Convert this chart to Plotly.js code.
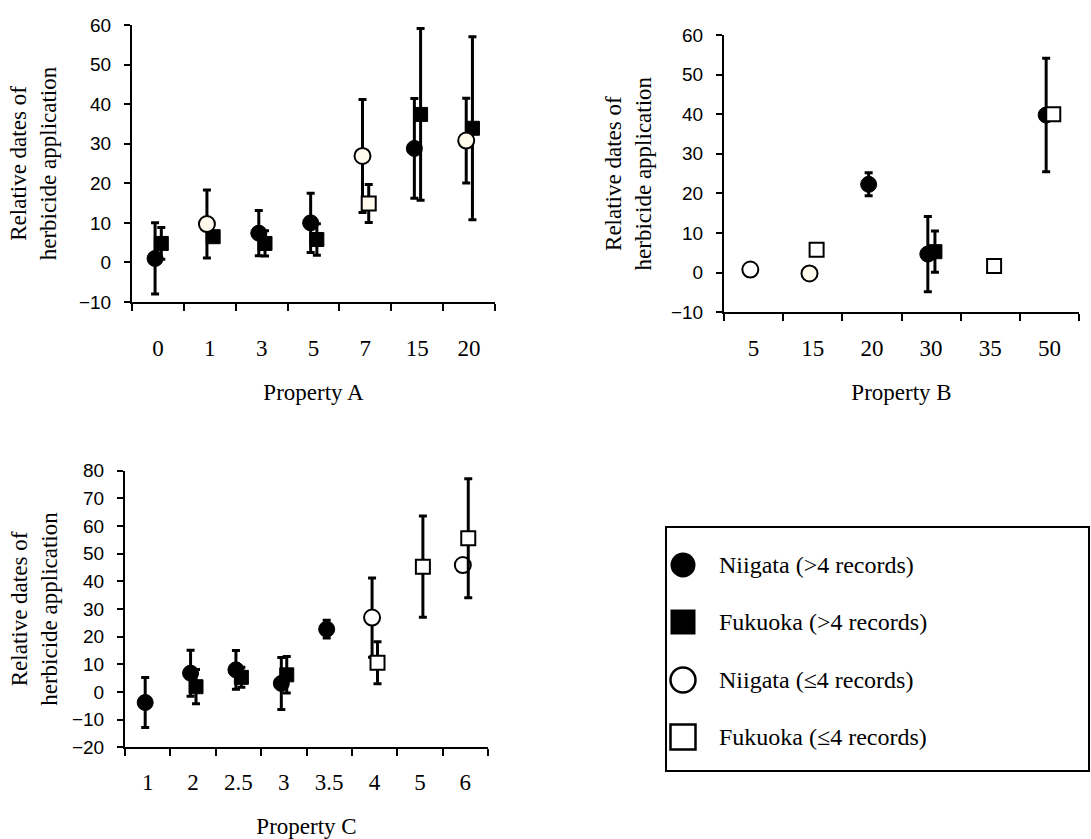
<!DOCTYPE html>
<html><head><meta charset="utf-8">
<script src="https://cdn.plot.ly/plotly-3.0.1.min.js"></script>
<style>html,body{margin:0;padding:0;background:#fff}#chart{width:1091px;height:839px}</style>
</head><body><div id="chart"></div>
<script>
// ================= DATA =================
const seriesNames = ['Niigata (>4 records)', 'Fukuoka (>4 records)', 'Niigata (\u22644 records)', 'Fukuoka (\u22644 records)'];
const yTitle = 'Relative dates of<br>herbicide application';

// Panel A
const titleA = 'Property A';
const catsA = ['0', '1', '3', '5', '7', '15', '20'];
const niigataHighA    = [1.0, null, 7.4, 10.0, null, 28.8, null];
const niigataHighErrA = [9.0, null, 5.7, 7.5, null, 12.6, null];
const fukuokaHighA    = [4.8, 6.5, 4.8, 5.8, null, 37.4, 33.9];
const fukuokaHighErrA = [4.0, null, 3.2, 4.0, null, 21.7, 23.1];
const niigataLowA     = [null, 9.7, null, null, 26.9, null, 30.8];
const niigataLowErrA  = [null, 8.6, null, null, 14.3, null, 10.7];
const fukuokaLowA     = [null, null, null, null, 14.9, null, null];
const fukuokaLowErrA  = [null, null, null, null, 4.8, null, null];

// Panel B
const titleB = 'Property B';
const catsB = ['5', '15', '20', '30', '35', '50'];
const niigataHighB    = [null, null, 22.3, 4.7, null, 39.8];
const niigataHighErrB = [null, null, 2.9, 9.5, null, 14.3];
const fukuokaHighB    = [null, null, null, 5.3, null, null];
const fukuokaHighErrB = [null, null, null, 5.2, null, null];
const niigataLowB     = [0.8, -0.2, null, null, null, null];
const niigataLowErrB  = [null, null, null, null, null, null];
const fukuokaLowB     = [null, 5.8, null, null, 1.7, 40.0];
const fukuokaLowErrB  = [null, null, null, null, null, null];

// Panel C
const titleC = 'Property C';
const catsC = ['1', '2', '2.5', '3', '3.5', '4', '5', '6'];
const niigataHighC    = [-3.8, 6.8, 8.0, 3.1, 22.7, null, null, null];
const niigataHighErrC = [9.0, 8.3, 7.0, 9.4, 3.2, null, null, null];
const fukuokaHighC    = [null, 1.9, 5.3, 6.2, null, null, null, null];
const fukuokaHighErrC = [null, 6.2, 3.6, 6.6, null, null, null, null];
const niigataLowC     = [null, null, null, null, null, 26.9, null, 45.9];
const niigataLowErrC  = [null, null, null, null, null, 14.3, null, null];
const fukuokaLowC     = [null, null, null, null, null, 10.6, 45.3, 55.6];
const fukuokaLowErrC  = [null, null, null, null, null, 7.6, 18.3, 21.5];

// ================= STYLE / LAYOUT =================
const W = 1091, H = 839;
const SERIF = 'Liberation Serif, Times New Roman, serif';
const SANS = 'Liberation Sans, Arial, sans-serif';
const CREAM = '#fffaeb';
const circleOffset = -0.055, squareOffset = 0.065;

const styles = [
  {symbol: 'circle', size: 16, color: '#000', line: 1, off: circleOffset},
  {symbol: 'square', size: 14, color: '#000', line: 1, off: squareOffset},
  {symbol: 'circle', size: 16, color: '#fff', line: 2, off: circleOffset},
  {symbol: 'square', size: 14, color: '#fff', line: 2, off: squareOffset}
];

// panel pixel boxes: [left, right, top, bottom]
const boxA = [132, 495, 25, 302];
const boxB = [724, 1079, 35, 312.3];
const boxC = [125, 488, 470.7, 747.3];

function px2x(p) { return p / W; }
function px2y(p) { return 1 - p / H; }

const traces = [];
function addPanel(cats, series, errs, xa, ya, fills) {
  series.forEach((vals, s) => {
    const st = styles[s];
    const xs = [], ys = [], es = [];
    vals.forEach((v, i) => {
      if (v === null) return;
      xs.push(i + st.off); ys.push(v);
      es.push(errs[s][i] === null ? NaN : errs[s][i]);
    });
    const hasErr = es.some(e => !isNaN(e));
    traces.push({
      type: 'scatter', mode: 'markers', x: xs, y: ys, xaxis: xa, yaxis: ya,
      name: seriesNames[s], showlegend: false, cliponaxis: false,
      marker: {symbol: st.symbol, size: st.size,
               color: (fills && fills[s]) ? fills[s] : st.color,
               line: {color: '#000', width: st.line}},
      error_y: {type: 'data', array: es, visible: hasErr, color: '#000', thickness: 3, width: 4}
    });
  });
}

addPanel(catsA, [niigataHighA, fukuokaHighA, niigataLowA, fukuokaLowA],
         [niigataHighErrA, fukuokaHighErrA, niigataLowErrA, fukuokaLowErrA], 'x', 'y',
         [null, null, CREAM, CREAM]);
addPanel(catsB, [niigataHighB, fukuokaHighB, niigataLowB, fukuokaLowB],
         [niigataHighErrB, fukuokaHighErrB, niigataLowErrB, fukuokaLowErrB], 'x2', 'y2',
         [null, null, ['#fff', CREAM], null]);
addPanel(catsC, [niigataHighC, fukuokaHighC, niigataLowC, fukuokaLowC],
         [niigataHighErrC, fukuokaHighErrC, niigataLowErrC, fukuokaLowErrC], 'x3', 'y3', null);

function xAxis(box, cats, title, labelStandoff, titleStandoff, yanchor) {
  return {
    domain: [px2x(box[0]), px2x(box[1])], anchor: yanchor,
    range: [-0.5, cats.length - 0.5], fixedrange: true,
    tickmode: 'array', tickvals: cats.map((c, i) => i), ticktext: cats,
    ticks: '', showline: true, linecolor: '#000', linewidth: 2,
    showgrid: false, zeroline: false,
    tickfont: {family: SERIF, size: 23, color: '#000'},
    ticklabelstandoff: labelStandoff,
    minor: {tickmode: 'linear', tick0: -0.5, dtick: 1, ticks: 'outside', ticklen: 7,
            tickwidth: 2, tickcolor: '#000', showgrid: false},
    title: {text: title, font: {family: SERIF, size: 23, color: '#000'}, standoff: titleStandoff}
  };
}
function yAxis(box, range, xanchor, titleStandoff) {
  return {
    domain: [px2y(box[3]), px2y(box[2])], anchor: xanchor,
    range: range, fixedrange: true, tickmode: 'linear', tick0: 0, dtick: 10,
    ticks: 'outside', ticklen: 6, tickwidth: 2, tickcolor: '#000',
    showline: true, linecolor: '#000', linewidth: 2,
    showgrid: false, zeroline: false,
    tickfont: {family: SANS, size: 19, color: '#000'},
    ticklabelstandoff: 9,
    title: {text: yTitle, font: {family: SERIF, size: 23, color: '#000'}, standoff: titleStandoff}
  };
}

// manual legend
const legBox = [666, 1089, 527, 771];
const legRows = [565, 622, 680, 737];
const legMarkerX = 683, legTextX = 717, legR = 12.5;
const shapes = [{type: 'rect', xref: 'paper', yref: 'paper',
  x0: px2x(legBox[0]), x1: px2x(legBox[1]), y0: px2y(legBox[3]), y1: px2y(legBox[2]),
  line: {color: '#000', width: 2}, fillcolor: 'rgba(0,0,0,0)'}];
const annotations = [];
seriesNames.forEach((name, s) => {
  const st = styles[s];
  const cy = legRows[s];
  const filled = st.color === '#000';
  shapes.push({type: st.symbol === 'circle' ? 'circle' : 'rect', xref: 'paper', yref: 'paper',
    x0: px2x(legMarkerX - legR), x1: px2x(legMarkerX + legR),
    y0: px2y(cy + legR), y1: px2y(cy - legR),
    line: {color: '#000', width: filled ? 0 : 2.5},
    fillcolor: filled ? '#000' : '#fff'});
  annotations.push({xref: 'paper', yref: 'paper', x: px2x(legTextX), y: px2y(cy),
    xanchor: 'left', yanchor: 'middle', showarrow: false, text: name,
    font: {family: SERIF, size: 24, color: '#000'}});
});

const layout = {
  width: W, height: H, margin: {l: 0, r: 0, t: 0, b: 0},
  paper_bgcolor: '#fff', plot_bgcolor: 'rgba(0,0,0,0)', showlegend: false,
  xaxis: xAxis(boxA, catsA, titleA, 24, 24, 'y'),
  yaxis: yAxis(boxA, [-10, 60], 'x', 16),
  xaxis2: xAxis(boxB, catsB, titleB, 14, 24, 'y2'),
  yaxis2: yAxis(boxB, [-10, 60], 'x2', 13),
  xaxis3: xAxis(boxC, catsC, titleC, 13, 38, 'y3'),
  yaxis3: yAxis(boxC, [-20, 80], 'x3', 8),
  shapes: shapes, annotations: annotations
};

Plotly.newPlot('chart', traces, layout, {staticPlot: true});
</script>
</body></html>
